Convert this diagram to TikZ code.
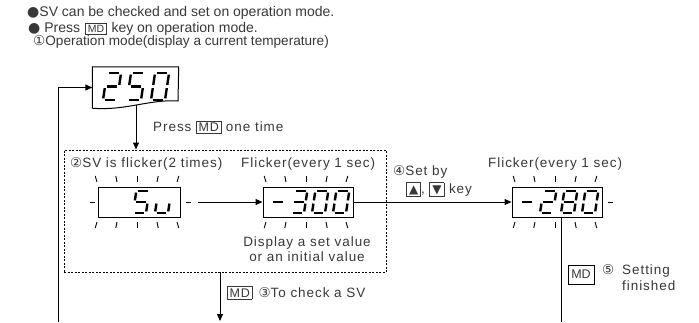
\documentclass[tikz,border=0pt]{standalone}
\usepackage{fontspec}
\setmainfont{Liberation Sans}
\newfontfamily\labfont{Liberation Sans}[LetterSpace=7]
\newfontfamily\dv{DejaVu Sans}
\usetikzlibrary{arrows.meta}
\definecolor{txt}{HTML}{383838}
\newcommand\mdk[1][12.5]{{\fboxsep=1.6pt\fboxrule=0.8pt\fbox{\fontsize{#1}{#1}\selectfont MD}}}
\newcommand\tri[1]{{\fboxsep=2pt\fboxrule=0.8pt\fbox{\dv\fontsize{12}{12}\selectfont #1}}}
% seven segment digits
\def\dh{22}\def\dw{13}\def\ds{0.15}\def\dg{1.6}
\newcommand\drawseg[6]{\draw[segline] ({#1+(#3)+\ds*(#4)},{#2-(#4)}) -- ({#1+(#5)+\ds*(#6)},{#2-(#6)});}
\newcommand\digitseg[3]{%
 \if a#3\drawseg{#1}{#2}{\dg}{\dh}{\dw-\dg}{\dh}\fi
 \if b#3\drawseg{#1}{#2}{\dw}{\dh-\dg}{\dw}{\dh/2+\dg}\fi
 \if c#3\drawseg{#1}{#2}{\dw}{\dh/2-\dg}{\dw}{\dg}\fi
 \if d#3\drawseg{#1}{#2}{\dg}{0}{\dw-\dg}{0}\fi
 \if e#3\drawseg{#1}{#2}{0}{\dg}{0}{\dh/2-\dg}\fi
 \if f#3\drawseg{#1}{#2}{0}{\dh/2+\dg}{0}{\dh-\dg}\fi
 \if g#3\drawseg{#1}{#2}{\dg}{\dh/2}{\dw-\dg}{\dh/2}\fi}
\newcommand\sevenseg[3]{\foreach \sgl in #3{\digitseg{#1}{#2}{\sgl}}}
\def\DZero{a,b,c,d,e,f}\def\DTwo{a,b,g,e,d}\def\DThree{a,b,g,c,d}
\def\DFive{a,f,g,c,d}\def\DEight{a,b,c,d,e,f,g}\def\DMinus{g}\def\DU{c,d,e}
\newcommand\flick[3]{% cx, box top, box bottom
 \foreach \dx/\sl in {-42/-1.8,-22/-1.2,-2/0,18/1.2,38/1.8}{
  \draw[tick] ({#1+\dx+\sl},#2-11) -- ({#1+\dx},#2-5);
  \draw[tick] ({#1+\dx},#3+5) -- ({#1+\dx+\sl},#3+11);}}
\begin{document}
\begin{tikzpicture}[x=1pt,y=-1pt,
 segline/.style={line width=2.4pt, line cap=butt},
 disp/.style={draw, line width=1pt, minimum height=30pt, inner sep=0pt},
 conn/.style={line width=1pt},
 arr/.style={conn, -{Triangle[length=7pt,width=6pt]}},
 big/.style={text=txt, inner sep=0pt, font=\fontsize{14}{16}\selectfont},
 lbl/.style={text=txt, inner sep=0pt, font=\labfont\fontsize{13.5}{15}\selectfont},
 tick/.style={line width=0.9pt},
 grpline/.style={draw, line width=0.9pt, dash pattern=on 2pt off 1.5pt},
 keybox/.style={draw, line width=0.8pt, inner sep=1pt, text=txt, font=\fontsize{12.5}{12.5}\selectfont},
]
\useasboundingbox (0,0) rectangle (699,322);
% header texts
\node[big, anchor=base west] (t1) at (27,16) {{\dv ●}SV can be checked and set on operation mode.};
\node[big, anchor=base west] (t2) at (28,32.5) {{\dv ●} Press\hspace{1.5pt} \mdk[10.5]\hspace{1pt} key on operation mode.};
\node[big, anchor=base west, font=\fontsize{13.6}{15}\selectfont] (t3) at (33,45.5) {{\dv ①}Operation mode(display a current temperature)};
% 250 display (document shape)
\node[minimum width=86pt, minimum height=41pt, inner sep=0pt] (d250) at (135.5,87.5) {};
\draw[conn] (d250.north west) -- (d250.north east) -- (178,101) .. controls (150,99) and (125,111) .. (d250.south west) -- cycle;
\coordinate (b250) at (136,105);
\def\dh{27}\def\dw{14}
\sevenseg{103}{100}{\DTwo}
\sevenseg{127}{100}{\DFive}
\sevenseg{151}{100}{\DZero}
\def\dh{22}\def\dw{13}
% group box
\node[grpline, minimum width=322pt, minimum height=122pt, inner sep=0pt] (grp) at (225,211) {};
\draw[arr] (b250) -- (b250 |- grp.north);
\node[lbl, anchor=base west] (p1) at (153,131.5) {Press \mdk{} one time};
% displays
\node[disp, minimum width=82pt] (dsv) at (139,202) {};
\node[disp, minimum width=90pt] (d300) at (308,202) {};
\node[disp, minimum width=90pt] (d280) at (557,202) {};
\sevenseg{133}{213}{\DFive}
\sevenseg{155}{213}{\DU}
\sevenseg{270}{213}{\DMinus}
\sevenseg{291}{213}{\DThree}
\sevenseg{312}{213}{\DZero}
\sevenseg{333}{213}{\DZero}
\sevenseg{519}{213}{\DMinus}
\sevenseg{540}{213}{\DTwo}
\sevenseg{561}{213}{\DEight}
\sevenseg{582}{213}{\DZero}
\flick{139}{187}{217}
\flick{308}{187}{217}
\flick{557}{187}{217}
\draw[conn] ([xshift=-8pt]dsv.west) -- ([xshift=-3pt]dsv.west);
\draw[conn] ([xshift=5pt]dsv.east) -- ([xshift=10pt]dsv.east);
\draw[conn] ([xshift=5pt]d280.east) -- ([xshift=10pt]d280.east);
% connectors
\draw[arr] ([xshift=17pt]dsv.east) -- (d300.west);
\draw[arr] (d300.east) -- (d280.west);
\coordinate (lb) at (58,322);
\draw[arr] (lb) |- (d250.west);
\coordinate (rb) at (561,322);
\draw[conn] (d280.south -| rb) -- (rb);
\coordinate (db) at (220,321);
\draw[arr] (grp.south -| db) -- (db);
% labels
\node[lbl, anchor=base west] (l2) at (70,167) {{\dv ②}SV is flicker(2 times)};
\node[lbl, anchor=base west] (f1) at (241,167) {Flicker(every 1 sec)};
\node[lbl, anchor=base west] (f2) at (488,167) {Flicker(every 1 sec)};
\node[lbl, anchor=base west] (s4) at (393,175) {{\dv ④}Set by};
\node[lbl, anchor=base west] (s4b) at (406,193) {\tri{▲}, \tri{▼} key};
\node[lbl, anchor=base] (dsp1) at (307,246) {Display a set value};
\node[lbl, anchor=base] (dsp2) at (307,261) {or an initial value};
\node[lbl, anchor=base west] (c3) at (227,297) {\mdk{}\hspace{1.5pt} {\dv ③}To check a SV};
\node[keybox, minimum width=26pt, minimum height=19pt] (k5) at (581,274.5) {MD};
\node[lbl, anchor=base west] (n5) at (602,274) {\dv ⑤};
\node[lbl, anchor=base west] (s5) at (622,274) {Setting};
\node[lbl, anchor=base west] (s5b) at (622,290) {finished};
\end{tikzpicture}
\end{document}
